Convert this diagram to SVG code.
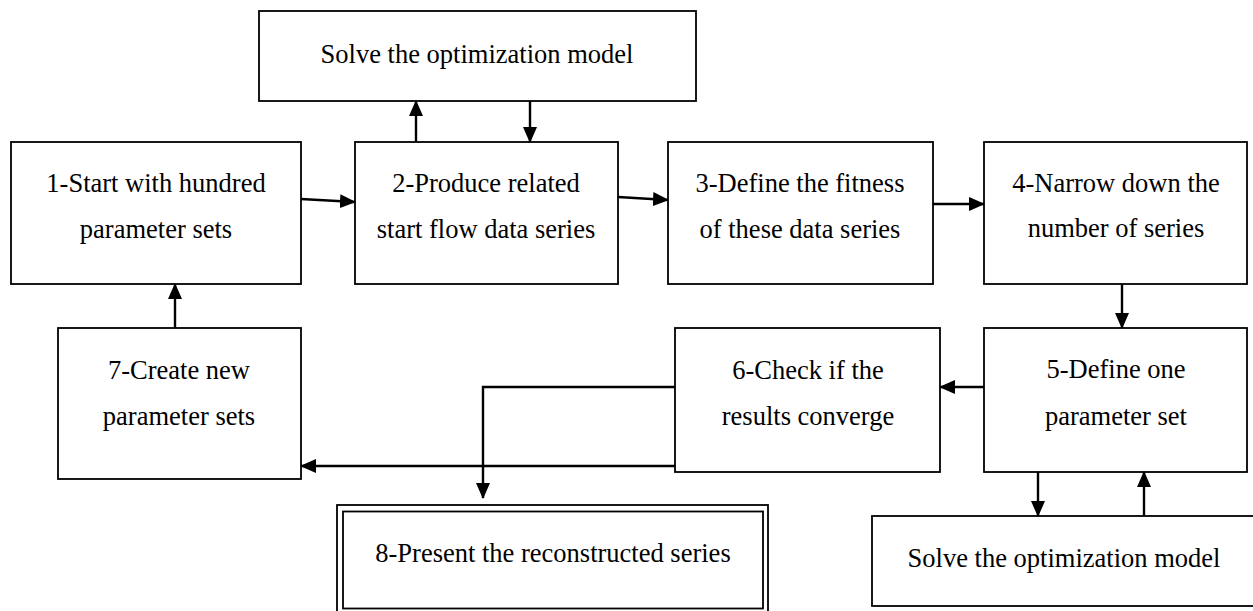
<svg xmlns="http://www.w3.org/2000/svg" width="1253" height="611" viewBox="0 0 1253 611">
<defs>
<marker id="ah" markerUnits="userSpaceOnUse" markerWidth="16" markerHeight="14" refX="15" refY="7" orient="auto">
<path d="M0,0 L16,7 L0,14 Z" fill="#000"/>
</marker>
<style>
.box{fill:#fff;stroke:#000;stroke-width:1.8}
.t{font-family:"Liberation Serif","Times New Roman",serif;font-size:26.5px;fill:#000;text-anchor:middle}
.c{fill:none;stroke:#000;stroke-width:2.4;marker-end:url(#ah)}
</style>
</defs>
<rect width="1253" height="611" fill="#fff"/>
<g id="solve-top"><rect class="box" x="259" y="11" width="437" height="90"/><text class="t" x="477" y="63">Solve the optimization model</text></g>
<g id="n1"><rect class="box" x="11" y="142" width="290" height="142"/><text class="t" x="156" y="192">1-Start with hundred</text><text class="t" x="156" y="238">parameter sets</text></g>
<g id="n2"><rect class="box" x="355" y="142" width="263" height="142"/><text class="t" x="486" y="192">2-Produce related</text><text class="t" x="486" y="238">start flow data series</text></g>
<g id="n3"><rect class="box" x="668" y="142" width="265" height="142"/><text class="t" x="800" y="192">3-Define the fitness</text><text class="t" x="800" y="238">of these data series</text></g>
<g id="n4"><rect class="box" x="984" y="142" width="263" height="142"/><text class="t" x="1116" y="192">4-Narrow down the</text><text class="t" x="1116" y="237">number of series</text></g>
<g id="n5"><rect class="box" x="984" y="328" width="263" height="144"/><text class="t" x="1116" y="378">5-Define one</text><text class="t" x="1116" y="425">parameter set</text></g>
<g id="n6"><rect class="box" x="675" y="328" width="265" height="144"/><text class="t" x="808" y="379">6-Check if the</text><text class="t" x="808" y="425">results converge</text></g>
<g id="n7"><rect class="box" x="58" y="328" width="243" height="151"/><text class="t" x="179" y="379">7-Create new</text><text class="t" x="179" y="425">parameter sets</text></g>
<g id="n8"><rect class="box" x="337" y="505" width="431" height="110" stroke-width="2.2"/><rect class="box" x="343" y="511.5" width="420" height="97" stroke-width="2.2"/><text class="t" x="553" y="562">8-Present the reconstructed series</text></g>
<g id="solve-bottom"><rect class="box" x="872" y="516" width="384" height="90"/><text class="t" x="1064" y="567">Solve the optimization model</text></g>
<g id="connectors">
<path class="c" d="M301,199 L355,202"/>
<path class="c" d="M416,142 L416,101"/>
<path class="c" d="M530,101 L530,142"/>
<path class="c" d="M618,197 L668,200"/>
<path class="c" d="M933,204 L984,204"/>
<path class="c" d="M1122,284 L1122,328"/>
<path class="c" d="M984,387 L940,387"/>
<path class="c" d="M1038,472 L1038,516"/>
<path class="c" d="M1144,516 L1144,472"/>
<path class="c" d="M175,328 L175,284"/>
<path class="c" d="M675,466 L301,466"/>
<path class="c" d="M675,387 L483,387 L483,498"/>
</g>
</svg>
